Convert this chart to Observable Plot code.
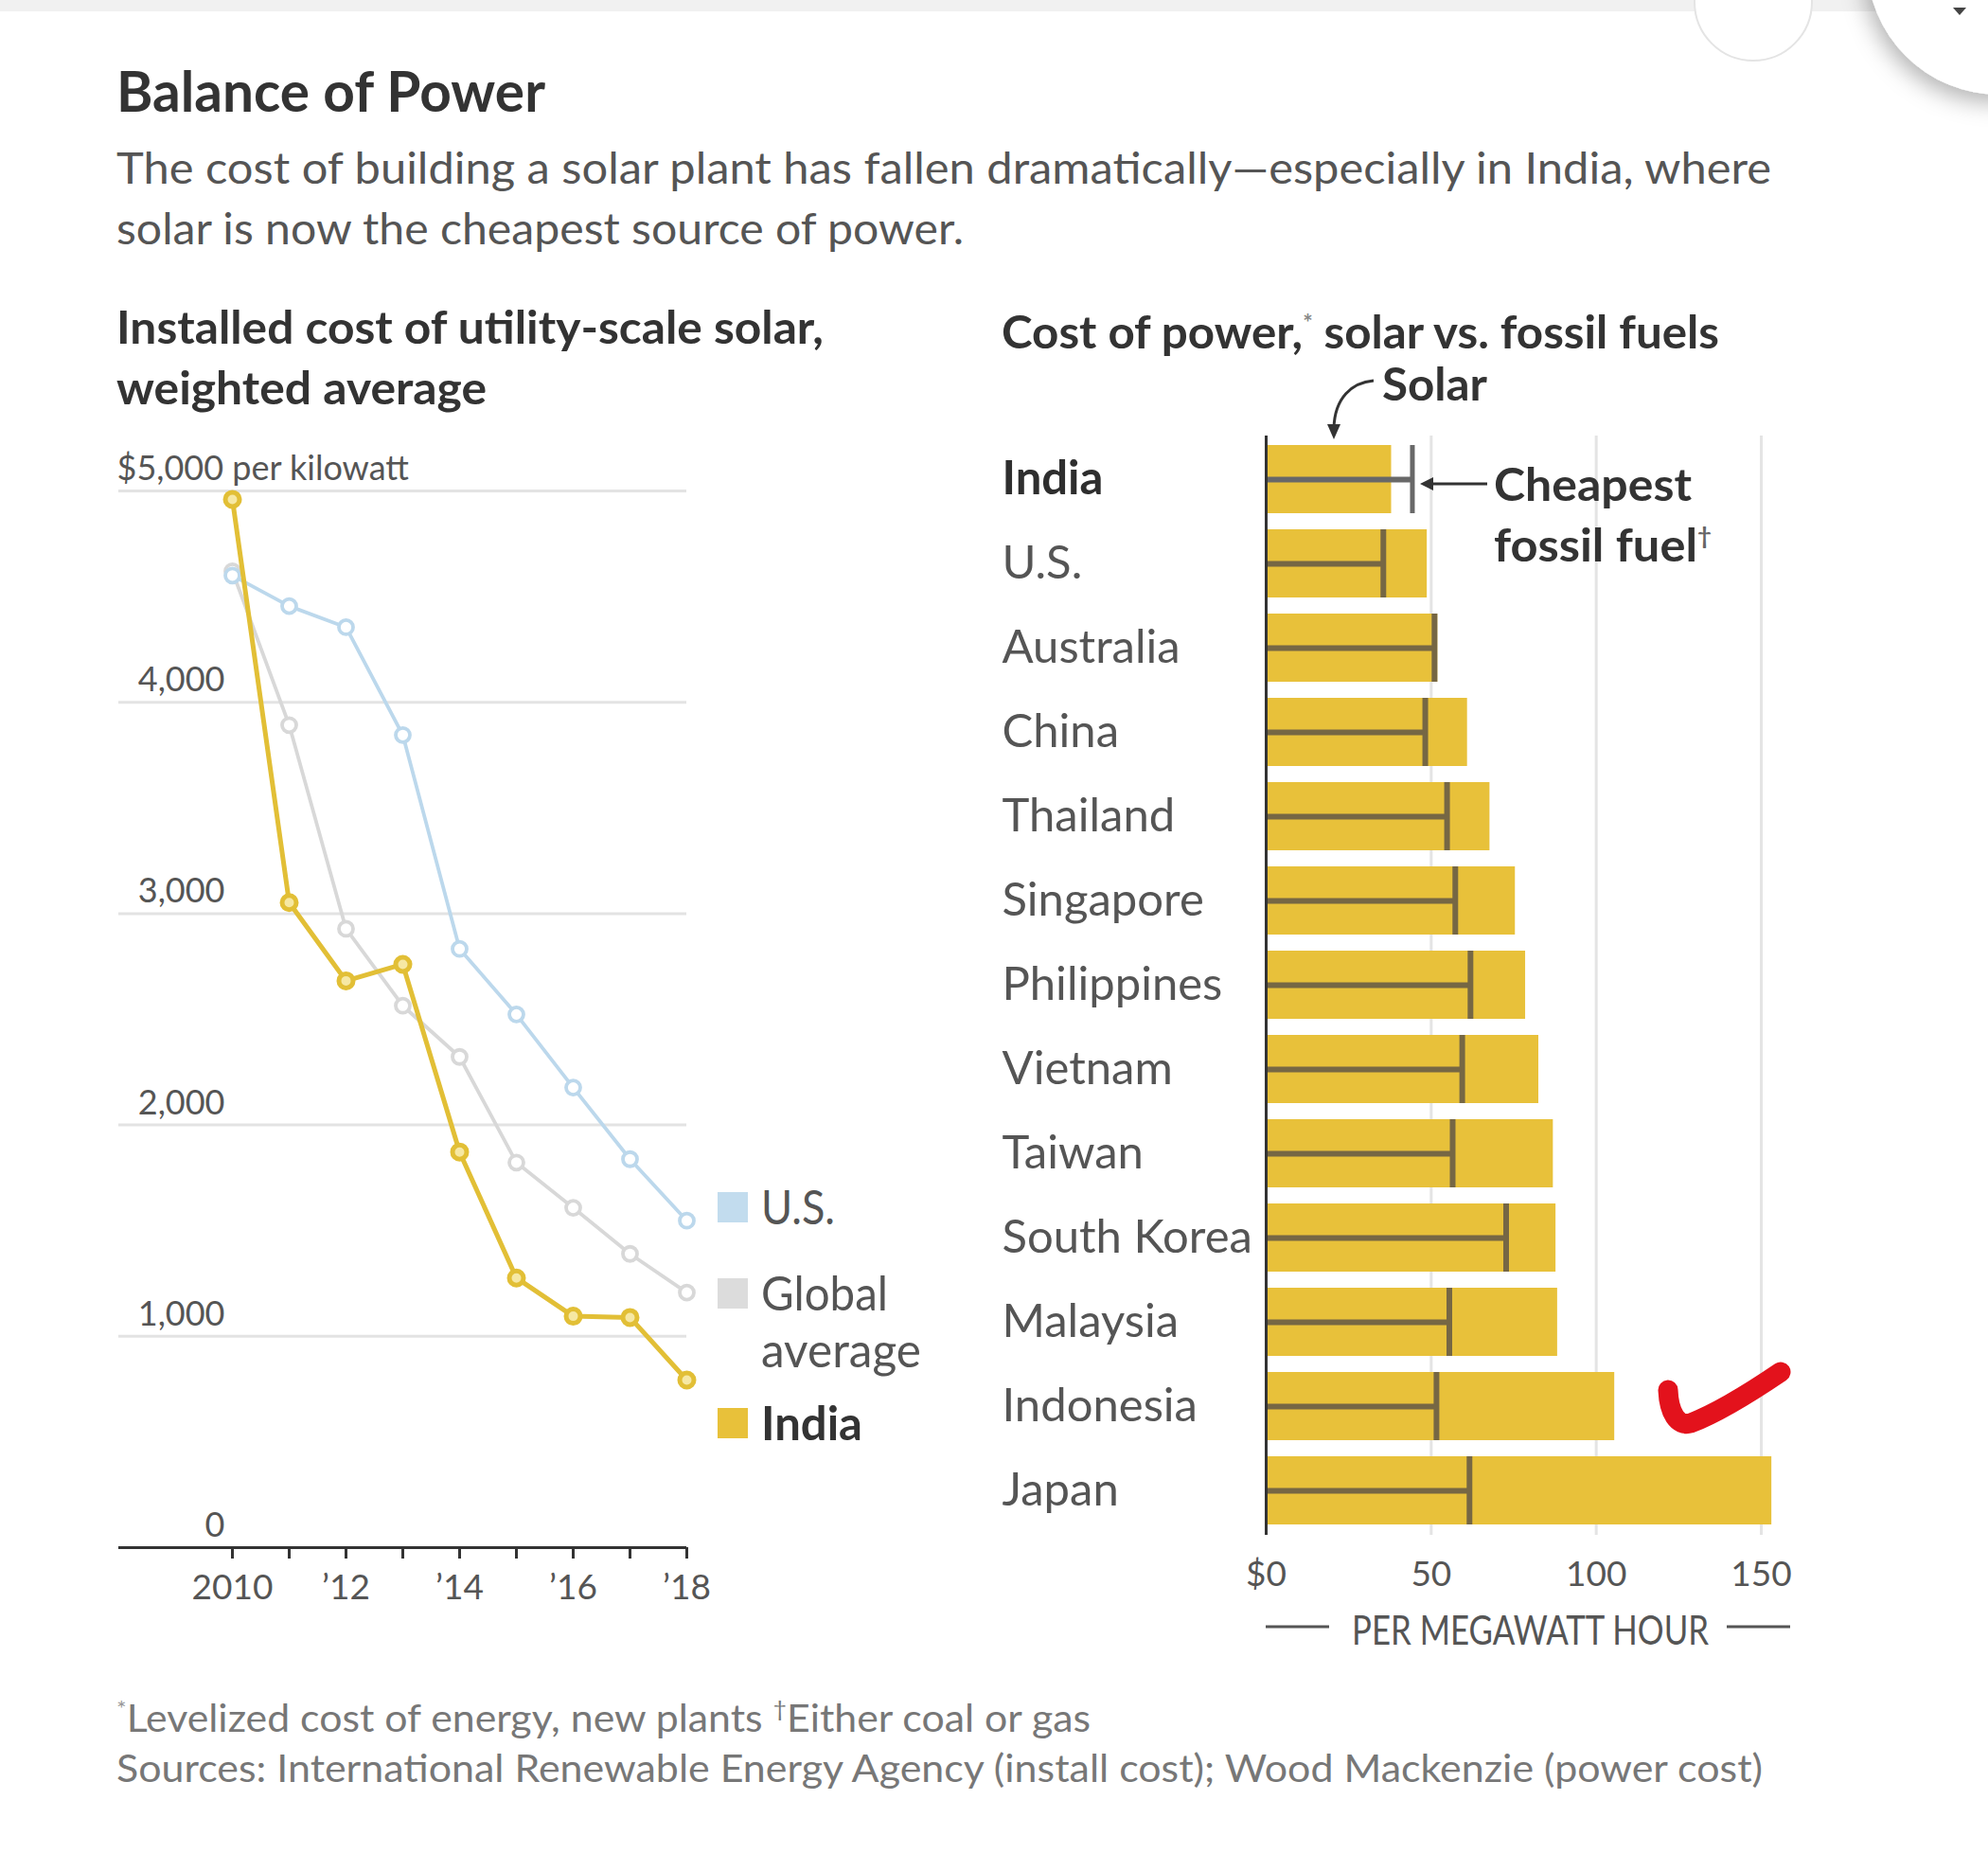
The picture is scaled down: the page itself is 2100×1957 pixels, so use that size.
<!DOCTYPE html>
<html>
<head>
<meta charset="utf-8">
<script src="https://cdn.jsdelivr.net/npm/d3@7"></script>
<script src="https://cdn.jsdelivr.net/npm/@observablehq/plot@0.6"></script>
<style>
  html, body { margin: 0; padding: 0; background: #fff; }
  #page { position: relative; width: 2100px; height: 1957px; overflow: hidden; background: #fff; font-family: Lato, "Noto Sans", sans-serif; }
  #page > svg, #page > .panel { position: absolute; }
  #left { left: 0; top: 440px; }
  #right { left: 1040px; top: 440px; }
  #overlay { left: 0; top: 0; pointer-events: none; }
</style>
</head>
<body>
<div id="page">
  <div id="left" class="panel"></div>
  <div id="right" class="panel"></div>
</div>
<script>
// Installed cost of utility-scale solar, $ per kilowatt
const years = [2010, 2011, 2012, 2013, 2014, 2015, 2016, 2017, 2018];
const usCost = [4600, 4455, 4355, 3845, 2833, 2523, 2177, 1838, 1547];
const globalCost = [4620, 3892, 2928, 2564, 2322, 1822, 1608, 1390, 1207];
const indiaCost = [4960, 3052, 2682, 2760, 1872, 1276, 1095, 1089, 793];
const costTicks = [0, 1000, 2000, 3000, 4000, 5000];

// Levelized cost of power, $ per megawatt hour
const countries = ["India", "U.S.", "Australia", "China", "Thailand", "Singapore", "Philippines",
  "Vietnam", "Taiwan", "South Korea", "Malaysia", "Indonesia", "Japan"];
const solarCost = [38, 48.8, 52, 61, 67.8, 75.5, 78.6, 82.6, 87, 87.8, 88.3, 105.6, 153.2];
const fossilCost = [44.3, 35.5, 51, 48.2, 54.8, 57.3, 61.9, 59.4, 56.5, 72.7, 55.5, 51.6, 61.6];
const powerTicks = [0, 50, 100, 150];

const yellow = "#e8c13a";
const font = "Lato, 'Noto Sans', sans-serif";
const baseStyle = {fontFamily: font, color: "#555", background: "transparent", overflow: "visible"};

// ---- Left panel: installed cost lines ----
const costRows = values => years.map((year, i) => ({year, value: values[i]}));
const series = [
  {rows: costRows(globalCost), color: "#d8d8d8", fill: "#fff", width: 3.8},
  {rows: costRows(usCost), color: "#bcd8ec", fill: "#fff", width: 3.8},
  {rows: costRows(indiaCost), color: "#e2bf36", fill: "#f6e8a4", width: 5}
];
const shortYear = y => y % 2 ? "" : (y === years[0] ? String(y) : "\u2019" + String(y).slice(2));

const left = Plot.plot({
  width: 1000, height: 1300,
  marginLeft: 125, marginRight: 275, marginTop: 78, marginBottom: 106,
  x: {domain: [2008, 2018], label: null},
  y: {domain: [0, 5000], label: null},
  style: baseStyle,
  marks: [
    Plot.ruleY(costTicks.filter(d => d > 0), {stroke: "#e3e3e3", strokeWidth: 3}),
    Plot.ruleY([0], {stroke: "#333", strokeWidth: 3}),
    Plot.axisX({ticks: years, tickSize: 12, tickPadding: 16, tickFormat: shortYear,
      fontSize: 37, stroke: "#333", strokeWidth: 3, fill: "#555"}),
    Plot.axisY({ticks: costTicks.filter(d => d < 5000), tickSize: 0, tickPadding: 0,
      dx: 112, dy: -23, textAnchor: "end", fontSize: 36, fill: "#555", tickFormat: d3.format(",")}),
    Plot.text(costTicks.filter(d => d === 5000), {y: d => d, frameAnchor: "left", textAnchor: "start",
      dx: -2, dy: -23, fontSize: 36, fill: "#555", text: d => `$${d3.format(",")(d)} per kilowatt`}),
    ...series.flatMap(s => [
      Plot.line(s.rows, {x: "year", y: "value", stroke: s.color, strokeWidth: s.width}),
      Plot.dot(s.rows, {x: "year", y: "value", r: 7.5, fill: s.fill, stroke: s.color, strokeWidth: s.width})
    ])
  ]
});
document.getElementById("left").append(left);

// ---- Right panel: solar vs. cheapest fossil fuel ----
const power = countries.map((country, i) => ({country, solar: solarCost[i], fossil: fossilCost[i]}));
const isIndia = d => d.country === "India";
const others = power.filter(d => !isIndia(d));
const india = power.filter(isIndia);

const right = Plot.plot({
  width: 1000, height: 1320,
  marginLeft: 297, marginRight: 180, marginTop: 20, marginBottom: 139,
  x: {domain: [0, 150], label: null},
  y: {domain: countries, paddingInner: 0.19, paddingOuter: 0.095, label: null, axis: null},
  style: baseStyle,
  marks: [
    Plot.ruleX(powerTicks.filter(d => d > 0), {stroke: "#e4e4e4", strokeWidth: 3}),
    Plot.barX(power, {y: "country", x: "solar", fill: yellow}),
    Plot.ruleY(others, {y: "country", x1: 0, x2: "fossil", stroke: "#766744", strokeWidth: 6}),
    Plot.tickX(others, {y: "country", x: "fossil", stroke: "#766744", strokeWidth: 6}),
    Plot.ruleY(india, {y: "country", x1: 0, x2: "fossil", stroke: "#686868", strokeWidth: 6}),
    Plot.tickX(india, {y: "country", x: "fossil", stroke: "#686868", strokeWidth: 5}),
    Plot.ruleX([0], {stroke: "#333", strokeWidth: 3}),
    Plot.axisX({ticks: powerTicks, tickSize: 0, tickPadding: 27, fontSize: 37, fill: "#555",
      tickFormat: d => (d === 0 ? "$" : "") + d}),
    Plot.text(others, {y: "country", text: "country", frameAnchor: "left", textAnchor: "start",
      dx: -279, fontSize: 49, fill: "#555"}),
    Plot.text(india, {y: "country", text: "country", frameAnchor: "left", textAnchor: "start",
      dx: -279, fontSize: 49, fontWeight: "bold", fill: "#2e2e2e"})
  ]
});
document.getElementById("right").append(right);

// ---- Titles, legend, notes and annotations ----
const svg = d3.select("#page").append("svg")
  .attr("id", "overlay").attr("width", 2100).attr("height", 1957)
  .style("font-family", font);

const defs = svg.append("defs");
defs.append("filter").attr("id", "shadow").attr("x", "-50%").attr("y", "-50%").attr("width", "200%").attr("height", "200%")
  .append("feDropShadow").attr("dx", -4).attr("dy", 8).attr("stdDeviation", 12)
  .attr("flood-color", "#000").attr("flood-opacity", 0.3);

// page chrome along the top edge
svg.append("rect").attr("x", 0).attr("y", 0).attr("width", 2100).attr("height", 12).attr("fill", "#f1f1f1");
svg.append("circle").attr("cx", 1852).attr("cy", 2).attr("r", 62).attr("fill", "#fff").attr("stroke", "#e4e4e4").attr("stroke-width", 2);
svg.append("circle").attr("cx", 2112).attr("cy", -40).attr("r", 140).attr("fill", "#fff").attr("filter", "url(#shadow)");
svg.append("path").attr("d", "M2063,8 L2077,8 L2070,16 Z").attr("fill", "#444");

function text(parts, {x, y, size, weight = "normal", fill = "#555", width}) {
  const t = svg.append("text").attr("x", x).attr("y", y)
    .attr("font-size", size).attr("font-weight", weight).attr("fill", fill);
  for (const p of [].concat(parts)) {
    if (typeof p === "string") t.append("tspan").text(p);
    else t.append("tspan").attr("font-size", p.size).attr("dy", p.dy).attr("fill", p.fill || null).text(p.text);
  }
  if (width) t.attr("textLength", width).attr("lengthAdjust", "spacingAndGlyphs");
  return t;
}

text("Balance of Power", {x: 123, y: 118, size: 60, weight: "bold", fill: "#333", width: 453});
text("The cost of building a solar plant has fallen dramatically\u2014especially in India, where",
  {x: 123, y: 194, size: 47, fill: "#555", width: 1748});
text("solar is now the cheapest source of power.", {x: 123, y: 258, size: 47, fill: "#555", width: 895});

text("Installed cost of utility-scale solar,", {x: 123, y: 363, size: 48, weight: "bold", fill: "#333", width: 747});
text("weighted average", {x: 123, y: 427, size: 48, weight: "bold", fill: "#333", width: 391});

text(["Cost of power,", {text: "*", size: 24, dy: -18, fill: "#888"}, {text: " solar vs. fossil fuels", size: 48, dy: 18}],
  {x: 1058, y: 368, size: 48, weight: "bold", fill: "#333", width: 758});

// legend for the cost lines
const legend = [
  {lines: ["U.S."], color: "#c2dcee", y: 1259, weight: "normal", fill: "#555"},
  {lines: ["Global", "average"], color: "#dcdcdc", y: 1350, weight: "normal", fill: "#555"},
  {lines: ["India"], color: yellow, y: 1487, weight: "bold", fill: "#333"}
];
const legendWidths = {"U.S.": 78, "Global": 134, "average": 169, "India": 107};
for (const item of legend) {
  svg.append("rect").attr("x", 758).attr("y", item.y).attr("width", 32).attr("height", 32).attr("fill", item.color);
  item.lines.forEach((line, i) => text(line, {x: 804, y: item.y + 34 + i * 60, size: 50, weight: item.weight,
    fill: item.fill, width: legendWidths[line]}));
}

// "Solar" callout with curved arrow
text("Solar", {x: 1460, y: 423, size: 47, weight: "bold", fill: "#333", width: 111});
svg.append("path").attr("d", "M1451,402 C1428,404 1410,420 1409,452")
  .attr("fill", "none").attr("stroke", "#333").attr("stroke-width", 3);
svg.append("path").attr("d", "M1402,448 L1416,448 L1409,464 Z").attr("fill", "#333");

// "Cheapest fossil fuel" callout
text("Cheapest", {x: 1578, y: 529, size: 47, weight: "bold", fill: "#333", width: 209});
text(["fossil fuel", {text: "\u2020", size: 24, dy: -18, fill: "#666"}],
  {x: 1578, y: 593, size: 47, weight: "bold", fill: "#333", width: 230});
svg.append("line").attr("x1", 1571).attr("x2", 1512).attr("y1", 511).attr("y2", 511)
  .attr("stroke", "#333").attr("stroke-width", 3);
svg.append("path").attr("d", "M1500,511 L1514,504 L1514,518 Z").attr("fill", "#333");

// x-axis unit for the cost of power
text("PER MEGAWATT HOUR", {x: 1428, y: 1737, size: 42, fill: "#555", width: 377});
svg.append("line").attr("x1", 1337).attr("x2", 1404).attr("y1", 1718).attr("y2", 1718).attr("stroke", "#555").attr("stroke-width", 3);
svg.append("line").attr("x1", 1824).attr("x2", 1891).attr("y1", 1718).attr("y2", 1718).attr("stroke", "#555").attr("stroke-width", 3);

// hand-drawn check mark
svg.append("path").attr("d", "M1762,1468 C1763,1492 1772,1507 1786,1503 C1815,1492 1850,1470 1881,1449")
  .attr("fill", "none").attr("stroke", "#e3121c").attr("stroke-width", 21)
  .attr("stroke-linecap", "round").attr("stroke-linejoin", "round");

// notes and sources
text([{text: "*", size: 24, dy: -16, fill: "#999"}, {text: "Levelized cost of energy, new plants   ", size: 41, dy: 16},
  {text: "\u2020", size: 24, dy: -16}, {text: "Either coal or gas", size: 41, dy: 16}],
  {x: 123, y: 1829, size: 41, fill: "#777", width: 1029});
text("Sources: International Renewable Energy Agency (install cost); Wood Mackenzie (power cost)",
  {x: 123, y: 1882, size: 41, fill: "#777", width: 1739});
</script>
</body>
</html>
